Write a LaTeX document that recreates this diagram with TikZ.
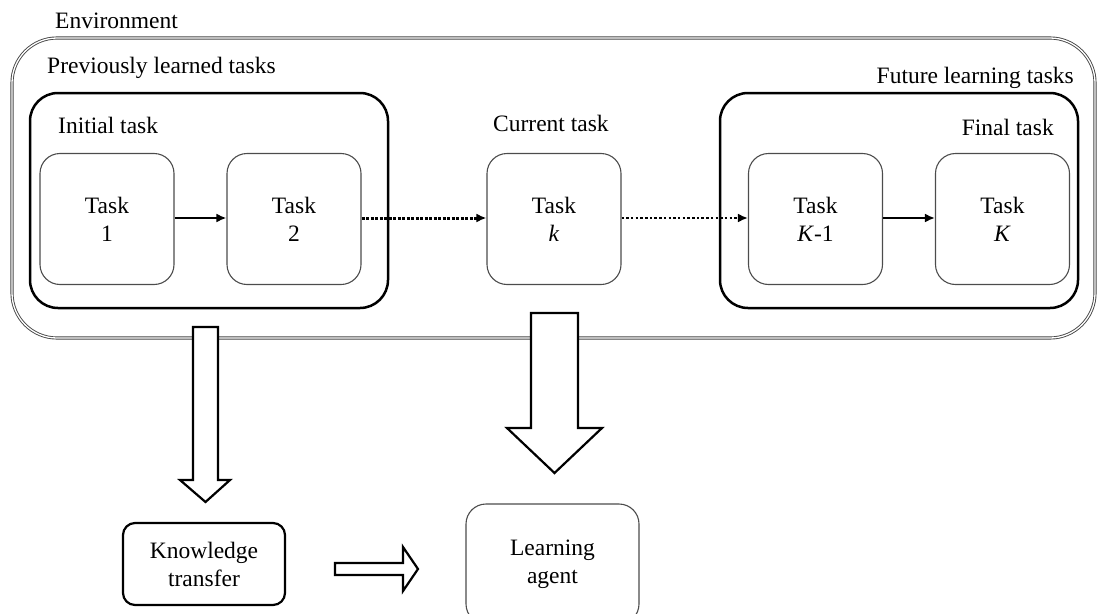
\documentclass[tikz,border=0pt]{standalone}
\usepackage{fontspec}
\setmainfont{Liberation Serif}
\usetikzlibrary{arrows.meta}
\begin{document}
\begin{tikzpicture}[x=1pt,y=-1pt,
  every node/.style={font=\fontsize{23.5}{28}\selectfont},
  envbox/.style={draw=gray!55!black, double=white, double distance=1.3pt, line width=0.9pt, rounded corners=45pt},
  groupbox/.style={draw=black, line width=2.5pt, rounded corners=28pt},
  taskbox/.style={draw=gray!60!black, line width=1.1pt, rounded corners=20pt, minimum width=134pt, minimum height=131pt, align=center, inner sep=0pt},
  label/.style={inner sep=0pt},
  link/.style={line width=2pt, -{Latex[length=10pt,width=9pt]}},
  bigarrow/.style={draw=black, fill=white, line width=2.2pt, line join=miter}
]
\useasboundingbox (0,0) rectangle (1097,613);

% environment frame
\node[envbox, minimum width=1083pt, minimum height=300pt] (env) at (553.5,188) {};
\node[label, anchor=base west] (envlbl) at (55,28) {Environment};

% group frames
\node[groupbox, minimum width=358pt, minimum height=215pt] (prev) at (209,200.5) {};
\node[groupbox, minimum width=358pt, minimum height=215pt] (future) at (899,200.5) {};
\node[label, anchor=base west] (prevlbl) at (47,73) {Previously learned tasks};
\node[label, anchor=base east] (futlbl) at (1074,83) {Future learning tasks};
\node[label, anchor=base west] (initlbl) at (58,133) {Initial task};
\node[label, anchor=base west] (curlbl) at (493,131) {Current task};
\node[label, anchor=base east] (finlbl) at (1054,135) {Final task};

% tasks
\node[taskbox] (t1) at (107,219) {Task\\1};
\node[taskbox] (t2) at (294,219) {Task\\2};
\node[taskbox] (tk) at (554,219) {Task\\\textit{k}};
\node[taskbox] (tK1) at (815.5,219) {Task\\\textit{K}-1};
\node[taskbox] (tK) at (1002.5,219) {Task\\\textit{K}};

\draw[link] (t1.east |- 0,218) -- (t2.west |- 0,218);
\draw[link, line width=3pt, dash pattern=on 3pt off 1.5pt] (t2.east |- 0,218) -- (tk.west |- 0,218);
\draw[link, line width=2pt, dash pattern=on 2.5pt off 2.2pt] (tk.east |- 0,218) -- (tK1.west |- 0,218);
\draw[link] (tK1.east |- 0,218) -- (tK.west |- 0,218);

% bottom boxes
\node[draw=black, line width=2.2pt, rounded corners=12pt, minimum width=162pt, minimum height=82pt, align=center] (kt) at (204,564) {Knowledge\\transfer};
\node[draw=gray!60!black, line width=1.1pt, rounded corners=20pt, minimum width=173pt, minimum height=120pt, align=center] (agent) at (552.5,564) {Learning\\agent};

% block arrows
\draw[bigarrow] (193,327) -- (218,327) -- (218,480) -- (230,480) -- (205.5,502) -- (180,480) -- (193,480) -- cycle;
\draw[bigarrow] (531,313) -- (578,313) -- (578,428) -- (602,428) -- (554.5,473) -- (507,428) -- (531,428) -- cycle;
\draw[bigarrow] (335,563) -- (403,563) -- (403,547) -- (418,569) -- (403,591) -- (403,575) -- (335,575) -- cycle;
\end{tikzpicture}
\end{document}
